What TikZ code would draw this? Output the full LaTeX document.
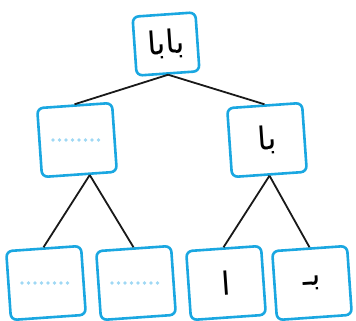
\documentclass[tikz,border=0pt]{standalone}
\usepackage{fontspec}
\newfontfamily\arabicfont[Script=Arabic]{DejaVu Sans}
\TeXXeTstate=1
\usetikzlibrary{calc}
\definecolor{boxblue}{HTML}{1AA7E1}
\definecolor{dotblue}{HTML}{9FD8F4}

\begin{document}
\begin{tikzpicture}[x=1pt,y=-1pt,
  box/.style={draw=boxblue, line width=2.6pt, rounded corners=6pt, rotate=4,
    minimum width=75pt, minimum height=69pt, inner sep=0pt,
    font=\fontsize{32}{36}\arabicfont},
  edge/.style={line width=1.8pt, black!90},
  blank/.style={dotblue, line width=3.6pt, line cap=round, dash pattern=on 0pt off 6.5pt}]
\useasboundingbox (0,0) rectangle (356,321);
% word and its parts
\node[box, minimum width=63pt, minimum height=59pt] (root) at (166,44) {\beginR بابا\endR};
\node[box] (midL) at (77,140) {};
\node[box] (midR) at (267,140) {\beginR با\endR};
\node[box] (leafA) at (46,283) {};
\node[box] (leafB) at (136,283) {};
\node[box] (leafC) at (226,283) {\beginR ا\endR};
\node[box] (leafD) at (312,283) {\beginR بـ\endR};
% empty places
\foreach \n in {midL,leafA,leafB}
  \draw[blank] ($(\n.center)+(-24,0)$) -- ($(\n.center)+(25,0)$);
% branches
\draw[edge] (root.south) -- (midL.north);
\draw[edge] (root.south) -- (midR.north);
\draw[edge] (midL.-74) -- (leafA.north);
\draw[edge] (midL.-74) -- (leafB.north);
\draw[edge] (midR.south) -- (leafC.north);
\draw[edge] (midR.south) -- (leafD.north);
\end{tikzpicture}
\end{document}
